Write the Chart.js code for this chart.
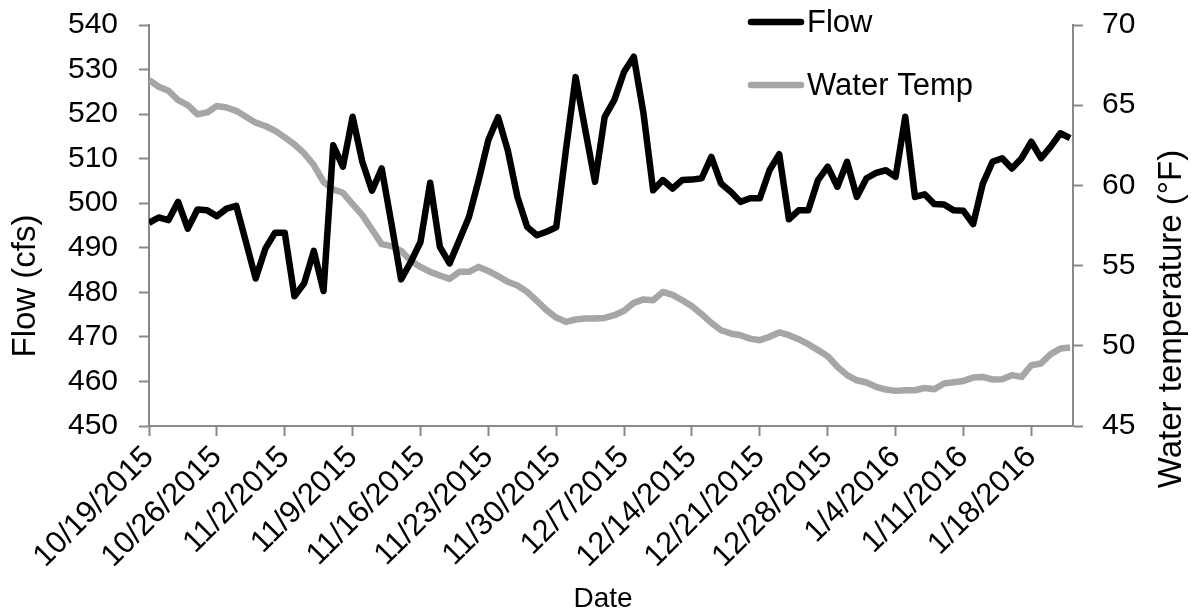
<!DOCTYPE html>
<html lang="en">
<head>
    <meta charset="UTF-8">
    <title>Flow and Water Temperature</title>
    <script src="https://cdn.jsdelivr.net/npm/chart.js"></script>
    <style>
        html, body { margin: 0; padding: 0; background: #fff; }
        #wrap { width: 1191px; height: 615px; }
    </style>
</head>
<body>
    <div id="wrap"><canvas id="flowChart"></canvas></div>
    <script>
        // weekly tick labels (every 7 days from 10/19/2015)
        const tickLabels = ['10/19/2015', '10/26/2015', '11/2/2015', '11/9/2015', '11/16/2015',
            '11/23/2015', '11/30/2015', '12/7/2015', '12/14/2015', '12/21/2015',
            '12/28/2015', '1/4/2016', '1/11/2016', '1/18/2016'];

        // daily flow (cfs), 10/19/2015 .. 1/22/2016
        const flow = [
            495.6, 496.8, 496.2, 500.3, 494.3, 498.6, 498.4, 497.1, 498.8, 499.4,
            491.3, 483.1, 489.8, 493.4, 493.4, 479.1, 482.0, 489.3, 480.3, 513.0,
            508.2, 519.4, 509.3, 502.8, 507.8, 495.5, 482.9, 486.8, 491.3, 504.6,
            490.2, 486.5, 491.7, 496.9, 505.2, 514.2, 519.3, 511.9, 501.4, 494.7,
            492.8, 493.6, 494.6, 511.9, 528.3, 516.4, 504.8, 519.4, 523.2, 529.5,
            532.9, 520.2, 502.9, 505.2, 503.3, 505.2, 505.3, 505.6, 510.4, 504.4,
            502.6, 500.3, 501.1, 501.1, 507.4, 511.0, 496.4, 498.4, 498.4, 505.2,
            508.2, 503.7, 509.3, 501.4, 505.6, 506.8, 507.4, 505.9, 519.4, 501.4,
            502.0, 499.8, 499.7, 498.4, 498.3, 495.3, 504.4, 509.3, 510.1, 507.8,
            510.1, 513.8, 510.1, 512.7, 515.7, 514.6
        ];

        // daily water temperature (°F)
        const waterTemp = [
            66.57, 66.15, 65.90, 65.32, 65.00, 64.43, 64.55, 64.95, 64.86, 64.65,
            64.28, 63.91, 63.70, 63.41, 62.99, 62.56, 62.00, 61.27, 60.22, 59.75,
            59.54, 58.83, 58.15, 57.25, 56.34, 56.21, 55.92, 55.30, 54.92, 54.61,
            54.38, 54.17, 54.61, 54.61, 54.92, 54.67, 54.34, 53.99, 53.76, 53.36,
            52.80, 52.22, 51.76, 51.49, 51.64, 51.70, 51.70, 51.74, 51.91, 52.18,
            52.68, 52.89, 52.84, 53.36, 53.18, 52.84, 52.47, 51.97, 51.43, 50.97,
            50.77, 50.66, 50.45, 50.35, 50.56, 50.83, 50.66, 50.41, 50.10, 49.73,
            49.35, 48.69, 48.17, 47.85, 47.71, 47.44, 47.27, 47.19, 47.23, 47.23,
            47.37, 47.29, 47.65, 47.73, 47.81, 48.02, 48.06, 47.90, 47.92, 48.17,
            48.06, 48.79, 48.90, 49.48, 49.83, 49.89
        ];

        const FONT = 'Liberation Sans, Arial, sans-serif';
        const AXIS_GREY = '#898989';

        const flowPoints = flow.map((v, i) => ({ x: i, y: v }));
        const tempPoints = waterTemp.map((v, i) => ({ x: i, y: v }));

        // legend + axis titles drawn by hand so they sit where the original has them
        const decorations = {
            id: 'decorations',
            afterDraw(chart) {
                const ctx = chart.ctx;
                ctx.save();
                ctx.fillStyle = '#000';
                ctx.textBaseline = 'middle';

                // legend
                ctx.font = '31px ' + FONT;
                const items = [
                    { text: 'Flow', color: '#000000', y: 22 },
                    { text: 'Water Temp', color: '#A6A6A6', y: 85 }
                ];
                items.forEach(it => {
                    ctx.strokeStyle = it.color;
                    ctx.lineWidth = 6.5;
                    ctx.lineCap = 'round';
                    ctx.beginPath();
                    ctx.moveTo(751, it.y);
                    ctx.lineTo(801, it.y);
                    ctx.stroke();
                    ctx.textAlign = 'left';
                    ctx.fillText(it.text, 807, it.y + 1);
                });

                // y titles
                ctx.font = '33px ' + FONT;
                ctx.textAlign = 'center';
                ctx.save();
                ctx.translate(26, 286);
                ctx.rotate(-Math.PI / 2);
                ctx.fillText('Flow (cfs)', 0, 0);
                ctx.restore();

                ctx.save();
                ctx.translate(1172, 319);
                ctx.rotate(-Math.PI / 2);
                ctx.fillText('Water temperature (°F)', 0, 0);
                ctx.restore();

                // x title
                ctx.font = '28px ' + FONT;
                ctx.fillText('Date', 603, 599);
                ctx.restore();
            }
        };

        // drop the label overhang so the plot top sits at the layout padding
        const noOverhang = s => { s.paddingTop = 0; s.paddingBottom = 0; };

        new Chart(document.getElementById('flowChart'), {
            type: 'line',
            data: {
                datasets: [{
                    label: 'Flow',
                    data: flowPoints,
                    borderColor: '#000000',
                    borderWidth: 6.5,
                    pointRadius: 0,
                    tension: 0,
                    borderJoinStyle: 'round',
                    yAxisID: 'yFlow'
                }, {
                    label: 'Water Temp',
                    data: tempPoints,
                    borderColor: '#A6A6A6',
                    borderWidth: 6.5,
                    pointRadius: 0,
                    tension: 0,
                    borderJoinStyle: 'round',
                    yAxisID: 'yTemp'
                }]
            },
            options: {
                responsive: true,
                maintainAspectRatio: false,
                animation: false,
                layout: { padding: { top: 25, left: 0, right: 0, bottom: 0 } },
                plugins: {
                    legend: { display: false },
                    tooltip: { enabled: false }
                },
                scales: {
                    x: {
                        type: 'linear',
                        min: 0,
                        max: 95.3,
                        afterFit: s => { s.height = 189; s.paddingLeft = 0; s.paddingRight = 0; },
                        border: { color: AXIS_GREY, width: 2 },
                        grid: { drawOnChartArea: false, tickLength: 10, color: AXIS_GREY, tickWidth: 2 },
                        ticks: {
                            stepSize: 7,
                            includeBounds: false,
                            autoSkip: false,
                            minRotation: 45,
                            maxRotation: 45,
                            padding: 3,
                            color: '#000',
                            font: { family: FONT, size: 31 },
                            callback: v => tickLabels[Math.round(v / 7)] || ''
                        }
                    },
                    yFlow: {
                        position: 'left',
                        min: 450,
                        max: 540,
                        afterFit: s => { s.width = 149; noOverhang(s); },
                        border: { color: AXIS_GREY, width: 2 },
                        grid: { drawOnChartArea: false, tickLength: 10, color: AXIS_GREY, tickWidth: 2 },
                        ticks: {
                            stepSize: 10,
                            padding: 21,
                            color: '#000',
                            font: { family: FONT, size: 30 }
                        }
                    },
                    yTemp: {
                        position: 'right',
                        min: 45,
                        max: 70,
                        afterFit: s => { s.width = 118; noOverhang(s); },
                        border: { color: AXIS_GREY, width: 2 },
                        grid: { drawOnChartArea: false, tickLength: 10, color: AXIS_GREY, tickWidth: 2 },
                        ticks: {
                            stepSize: 5,
                            padding: 19,
                            color: '#000',
                            font: { family: FONT, size: 30 }
                        }
                    }
                }
            },
            plugins: [decorations]
        });
    </script>
</body>
</html>
